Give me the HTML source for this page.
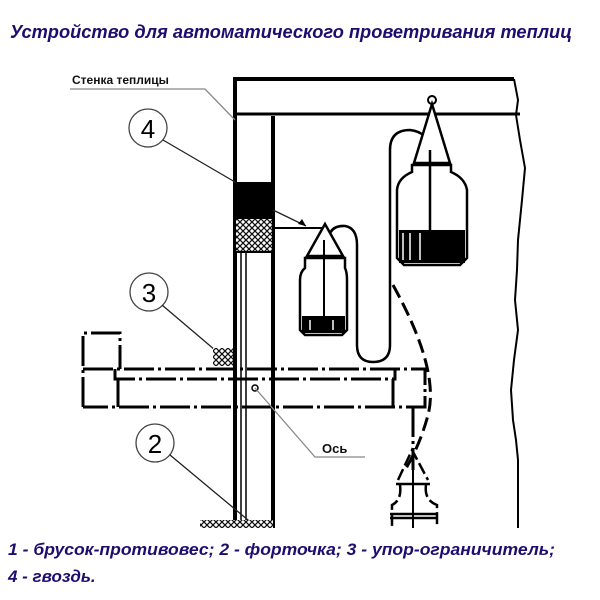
<!DOCTYPE html>
<html><head><meta charset="utf-8"><style>
html,body{margin:0;padding:0;background:#fff;}
svg{display:block;}
.t{font-family:"Liberation Sans","DejaVu Sans",sans-serif;font-weight:bold;font-style:italic;fill:#1e0d6e;}
.l{font-family:"Liberation Sans","DejaVu Sans",sans-serif;font-weight:bold;fill:#111;}
</style></head><body>
<svg width="600" height="600" viewBox="0 0 600 600" xmlns="http://www.w3.org/2000/svg">
<defs>
<pattern id="h" width="6" height="6" patternUnits="userSpaceOnUse">
<rect width="6" height="6" fill="#fff"/><path d="M0,6 L6,0 M0,0 L6,6" stroke="#111" stroke-width="1.3"/>
</pattern>
</defs>
<text class="t" x="10" y="38" font-size="18" textLength="562" lengthAdjust="spacingAndGlyphs">Устройство для автоматического проветривания теплиц</text>

<!-- wall frame -->
<g stroke="#000" fill="none">
<path d="M235,528 V79 H514" stroke-width="4"/>
<path d="M237,114 H520" stroke-width="3"/>
<path d="M273,116 V528" stroke-width="4"/>
<path d="M241,252 V528 M246,252 V528" stroke-width="1.5"/>
<path d="M514,79 L518,100 L516,115 L520,140 L525,168 L522,200 L518,240 L517,270 L515,300 L518,330 L514,360 L511,390 L513,420 L516,440 L518,460 V528" stroke-width="2"/>
</g>
<rect x="235" y="182" width="38" height="36" fill="#000"/>
<rect x="235" y="218" width="38" height="34" fill="url(#h)" stroke="#000" stroke-width="2"/>

<!-- labels & leaders -->
<text class="l" x="72" y="84" font-size="12">Стенка теплицы</text>
<path d="M70,89 H205 L235,120" stroke="#888" stroke-width="1.3" fill="none"/>
<circle cx="148" cy="128" r="19" fill="#fff" stroke="#444" stroke-width="1.3"/>
<text x="148" y="138" font-family="Liberation Sans,sans-serif" font-size="26" text-anchor="middle">4</text>
<path d="M163,140 L235,182" stroke="#222" stroke-width="1.3"/>
<path d="M273,210 L306,226" stroke="#222" stroke-width="1.3"/>
<path d="M306,226 L298,224 L302,219 Z" fill="#000"/>
<circle cx="149" cy="292" r="19" fill="#fff" stroke="#444" stroke-width="1.3"/>
<text x="149" y="302" font-family="Liberation Sans,sans-serif" font-size="26" text-anchor="middle">3</text>
<path d="M162,305 L215,350" stroke="#222" stroke-width="1.3"/>
<rect x="213" y="348" width="20" height="18" fill="url(#h)"/>
<circle cx="155" cy="443" r="19" fill="#fff" stroke="#444" stroke-width="1.3"/>
<text x="155" y="453" font-family="Liberation Sans,sans-serif" font-size="26" text-anchor="middle">2</text>
<path d="M170,455 L254,525" stroke="#222" stroke-width="1.3"/>
<rect x="200" y="520" width="73" height="8" fill="url(#h)"/>

<!-- sash -->
<g stroke="#000" stroke-width="3" fill="none" stroke-dasharray="30,4,3,4">
<path d="M83,407 V333 H120 V369"/>
<path d="M83,369 H425 V407 H83"/>
<path d="M115,369 V379 H395 V369"/>
<path d="M118,379 V407 M393,379 V407"/>
<path d="M413,407 V470"/>
</g>
<circle cx="255" cy="388" r="3" fill="#fff" stroke="#000" stroke-width="1.5"/>
<path d="M255,388 L315,457 H365" stroke="#888" stroke-width="1.3" fill="none"/>
<text class="l" x="322" y="453" font-size="13">Ось</text>

<!-- tube -->
<path d="M273,228 H325" stroke="#000" stroke-width="2"/>
<path d="M328,240 Q330,225 345,226 Q357,228 357,245 V345 Q357,362 373,362 Q390,362 390,345 V150 Q390,130 410,130 Q428,132 431,150" stroke="#000" stroke-width="2.5" fill="none"/>

<!-- small bottle -->
<g stroke="#000" stroke-width="2.5" fill="#fff">
<path d="M325,224 L307,256 H343 Z"/>
<path d="M305,258 H345 V262 L345,268 Q347,272 347,280 V330 L342,335 H305 L300,330 V280 Q300,272 305,268 Z"/>
</g>
<rect x="302" y="316" width="43" height="17" fill="#000"/>
<path d="M324,240 V333" stroke="#000" stroke-width="2"/>
<path d="M310,320 V330 M333,320 V330" stroke="#fff" stroke-width="1.5"/>

<!-- big bottle -->
<circle cx="432" cy="100" r="4" fill="#fff" stroke="#000" stroke-width="2"/>
<g stroke="#000" stroke-width="2.5" fill="#fff">
<path d="M432,104 L414,163 H450 Z"/>
<path d="M412,165 H451 V172 Q465,178 467,190 V258 L460,265 H404 L397,258 V190 Q398,178 412,172 Z"/>
</g>
<rect x="399" y="230" width="66" height="33" fill="#000"/>
<path d="M430,150 V263" stroke="#000" stroke-width="2.5"/>
<path d="M403,233 V260 M410,233 V260 M420,233 V260" stroke="#fff" stroke-width="1.5"/>

<!-- dashed arc -->
<path d="M393,285 Q440,370 428,415 Q420,445 405,470" stroke="#000" stroke-width="3" fill="none" stroke-dasharray="14,6"/>

<!-- lower bottle -->
<g stroke="#000" stroke-width="2.5" fill="none" stroke-dasharray="12,4">
<path d="M398,480 L412,450 L428,480"/>
<path d="M400,485 Q402,500 392,505 V528"/>
<path d="M426,485 Q424,500 437,505 V528"/>
</g>
<path d="M396,484 H430 M390,514 H437 M390,518 H437" stroke="#000" stroke-width="2.5"/>
<path d="M413,470 V528" stroke="#000" stroke-width="2"/>

<text class="t" x="8" y="555" font-size="17" textLength="547" lengthAdjust="spacingAndGlyphs">1 - брусок-противовес; 2 - форточка; 3 - упор-ограничитель;</text>
<text class="t" x="8" y="582" font-size="17">4 - гвоздь.</text>
</svg>
</body></html>
